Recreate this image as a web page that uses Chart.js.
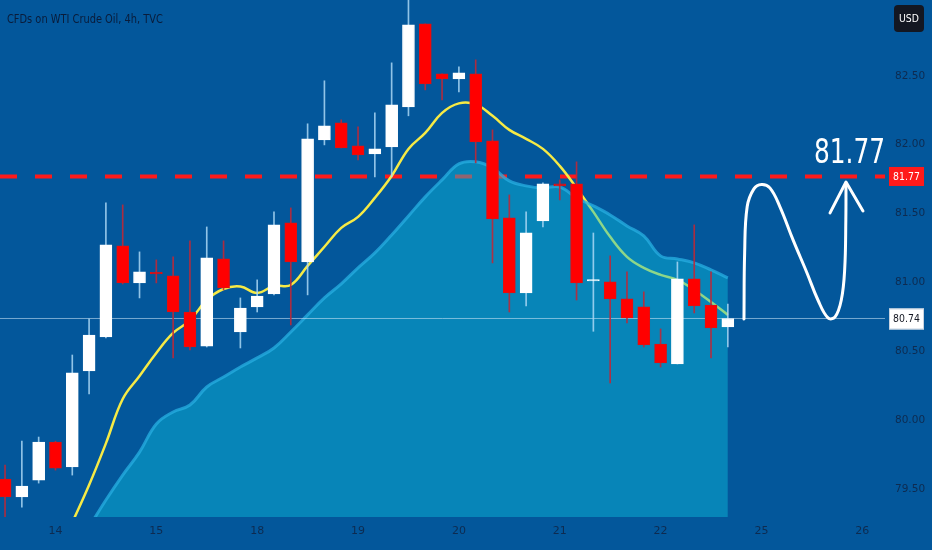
<!DOCTYPE html>
<html>
<head>
<meta charset="utf-8">
<script src="https://cdn.jsdelivr.net/npm/chart.js@4.4.1/dist/chart.umd.min.js"></script>
<style>
  html, body { margin: 0; padding: 0; background: #03579b; }
  #wrap { width: 932px; height: 550px; position: relative; }
</style>
</head>
<body>
<div id="wrap"><canvas id="oilChart"></canvas></div>
<script>
// 4h candles, WTI crude
const opens  = [79.575, 79.445, 79.568, 79.844, 79.663, 80.359, 80.606, 81.266, 80.998, 81.074, 81.049, 80.787, 80.54, 81.172, 80.642, 80.824, 80.918, 81.433, 81.15, 82.036, 82.159, 81.992, 81.934, 81.985, 82.275, 82.877, 82.515, 82.478, 82.515, 82.028, 81.47, 80.925, 81.448, 81.716, 81.716, 81.012, 81.005, 80.882, 80.824, 80.555, 80.41, 81.027, 80.838, 80.679];
const highs  = [79.677, 79.851, 79.88, 79.85, 80.475, 80.737, 81.578, 81.564, 81.223, 81.165, 81.187, 81.303, 81.404, 81.303, 80.889, 81.02, 81.513, 81.542, 82.152, 82.464, 82.181, 82.13, 82.231, 82.594, 83.2, 82.877, 82.515, 82.565, 82.616, 82.108, 81.636, 81.513, 81.724, 81.745, 81.876, 81.36, 81.194, 81.078, 80.933, 80.664, 81.15, 81.419, 81.078, 80.845];
const lows   = [79.25, 79.372, 79.546, 79.64, 79.604, 80.192, 80.599, 80.99, 80.889, 80.998, 80.454, 80.512, 80.533, 80.947, 80.526, 80.787, 80.911, 80.693, 80.911, 81.999, 81.977, 81.89, 81.767, 81.767, 82.21, 82.398, 82.326, 82.384, 81.869, 81.143, 80.787, 80.831, 81.404, 81.6, 80.874, 80.647, 80.272, 80.708, 80.533, 80.388, 80.41, 80.78, 80.454, 80.533];
const closes = [79.445, 79.525, 79.844, 79.655, 80.345, 80.62, 81.274, 80.998, 81.078, 81.064, 80.787, 80.533, 81.179, 80.962, 80.816, 80.903, 81.419, 81.15, 82.043, 82.137, 81.977, 81.927, 81.97, 82.29, 82.87, 82.442, 82.478, 82.522, 82.021, 81.462, 80.925, 81.361, 81.716, 81.702, 80.998, 81.022, 80.882, 80.744, 80.548, 80.417, 81.027, 80.831, 80.671, 80.74];

// yellow moving average, starts at bar 4
const maStart = 4;
const maValues = [79.26, 79.532, 79.834, 80.156, 80.323, 80.49, 80.635, 80.726, 80.874, 80.954, 80.972, 80.925, 80.976, 80.983, 81.121, 81.26, 81.397, 81.477, 81.615, 81.774, 81.97, 82.086, 82.231, 82.30, 82.293, 82.21, 82.108, 82.043, 81.97, 81.847, 81.687, 81.513, 81.332, 81.187, 81.107, 81.056, 81.02, 80.947, 80.86, 80.766];

// slow average shown as the cyan area, starts at bar 5
const areaStart = 5;
const areaValues = [79.227, 79.423, 79.604, 79.771, 79.975, 80.062, 80.112, 80.243, 80.315, 80.388, 80.454, 80.526, 80.642, 80.766, 80.889, 80.991, 81.107, 81.216, 81.346, 81.484, 81.622, 81.745, 81.861, 81.876, 81.832, 81.738, 81.702, 81.687, 81.694, 81.615, 81.557, 81.491, 81.411, 81.339, 81.194, 81.172, 81.143, 81.092, 81.034];

const targetPrice = 81.77;
const lastPrice = 80.74;

const xTickIndex  = [3, 9, 15, 21, 27, 33, 39, 45, 51];
const xTickLabels = ['14', '15', '18', '19', '20', '21', '22', '25', '26'];
const yTicks = [79.5, 80, 80.5, 81, 81.5, 82, 82.5];

// hand drawn projection (bar index, price)
const pathX = [43.96, 44.0, 44.15, 44.55, 45.0, 45.5, 46.1, 46.88, 47.71, 48.36, 48.96, 49.38, 49.75, 49.95, 50.02, 50.03];
const pathY = [80.736, 81.216, 81.55, 81.68, 81.712, 81.687, 81.55, 81.31, 81.07, 80.874, 80.744, 80.751, 80.874, 81.092, 81.455, 81.716];
const arrowX = [49.08, 50.03, 51.04];
const arrowY = [81.506, 81.73, 81.52];

const X_MIN = -0.3, X_MAX = 52.35;
const uiFont = "'DejaVu Sans', sans-serif";

const up = closes.map((c, i) => c >= opens[i]);
const bodyColors = up.map(u => u ? '#ffffff' : '#ff0000');
const bodyBorders = up.map(u => u ? '#ffffff' : '#e01010');
const wickColors = up.map(u => u ? 'rgba(170,215,245,0.85)' : 'rgba(190,40,55,0.9)');

// squeeze text horizontally (the original uses a condensed face)
function narrowText(ctx, text, x, y, sx) {
    ctx.save();
    ctx.translate(x, y);
    ctx.scale(sx, 1);
    ctx.fillText(text, 0, 0);
    ctx.restore();
}

const overlay = {
    id: 'overlay',
    afterDraw(chart) {
        const { ctx, chartArea } = chart;
        const y = chart.scales.y;
        ctx.save();

        // title
        ctx.fillStyle = '#0a1c3a';
        ctx.font = '12px ' + uiFont;
        ctx.textBaseline = 'middle';
        ctx.textAlign = 'left';
        narrowText(ctx, 'CFDs on WTI Crude Oil, 4h, TVC', 7, 20, 0.82);

        // currency box
        ctx.fillStyle = '#131722';
        ctx.beginPath();
        ctx.roundRect(894, 5, 30, 27, 4);
        ctx.fill();
        ctx.fillStyle = '#ffffff';
        ctx.textAlign = 'center';
        ctx.font = '11px ' + uiFont;
        narrowText(ctx, 'USD', 909, 19, 0.85);

        // target price label
        const yt = y.getPixelForValue(targetPrice);
        ctx.fillStyle = '#ff1a1a';
        ctx.fillRect(889, yt - 9.5, 35, 19);
        ctx.fillStyle = '#ffffff';
        narrowText(ctx, targetPrice.toFixed(2), 906.5, yt + 0.5, 0.85);

        // last price label
        const yl = y.getPixelForValue(lastPrice);
        ctx.fillStyle = '#ffffff';
        ctx.fillRect(889, yl - 10, 35, 21);
        ctx.strokeStyle = '#c8d3e0';
        ctx.lineWidth = 1;
        ctx.strokeRect(889.5, yl - 9.5, 34, 20);
        ctx.fillStyle = '#131722';
        narrowText(ctx, lastPrice.toFixed(2), 906.5, yl + 0.5, 0.85);

        // big target text
        ctx.fillStyle = '#ffffff';
        ctx.textAlign = 'right';
        ctx.textBaseline = 'alphabetic';
        ctx.font = '34px ' + uiFont;
        narrowText(ctx, targetPrice.toFixed(2), chartArea.right, yt - 13, 0.73);

        ctx.restore();
    }
};

const ctx = document.getElementById('oilChart').getContext('2d');
const oilChart = new Chart(ctx, {
    type: 'line',
    data: {
        datasets: [
            {
                type: 'line',
                data: [{ x: X_MIN, y: targetPrice }, { x: X_MAX, y: targetPrice }],
                borderColor: '#ff1a1a',
                borderWidth: 4,
                borderDash: [17, 18],
                pointRadius: 0,
                order: 7
            },
            {
                type: 'line',
                data: maValues.map((v, k) => ({ x: maStart + k, y: v })),
                borderColor: '#f6ea45',
                borderWidth: 2.5,
                pointRadius: 0,
                tension: 0.4,
                order: 6
            },
            {
                type: 'line',
                data: areaValues.map((v, k) => ({ x: areaStart + k, y: v })),
                borderColor: 'rgba(40,175,225,0.75)',
                borderWidth: 3,
                backgroundColor: 'rgba(14,191,219,0.45)',
                fill: 'start',
                pointRadius: 0,
                tension: 0.4,
                order: 5
            },
            {
                type: 'line',
                data: [{ x: X_MIN, y: lastPrice }, { x: X_MAX, y: lastPrice }],
                borderColor: 'rgba(200,225,245,0.6)',
                borderWidth: 1,
                pointRadius: 0,
                order: 4
            },
            {
                type: 'bar',
                data: lows.map((l, i) => ({ x: i, y: [l, highs[i]] })),
                backgroundColor: wickColors,
                barThickness: 1,
                grouped: false,
                order: 3
            },
            {
                type: 'bar',
                data: opens.map((o, i) => ({ x: i, y: [o, closes[i]] })),
                backgroundColor: bodyColors,
                borderColor: bodyBorders,
                borderWidth: 1,
                borderSkipped: false,
                barThickness: 12,
                grouped: false,
                order: 2
            },
            {
                type: 'line',
                data: pathX.map((x, k) => ({ x: x, y: pathY[k] })),
                borderColor: '#ffffff',
                borderWidth: 3,
                borderCapStyle: 'round',
                pointRadius: 0,
                tension: 0.4,
                order: 1
            },
            {
                type: 'line',
                data: arrowX.map((x, k) => ({ x: x, y: arrowY[k] })),
                borderColor: '#ffffff',
                borderWidth: 3,
                borderCapStyle: 'round',
                borderJoinStyle: 'round',
                pointRadius: 0,
                tension: 0,
                order: 0
            }
        ]
    },
    options: {
        responsive: true,
        maintainAspectRatio: false,
        animation: false,
        layout: { padding: 0 },
        plugins: {
            legend: { display: false },
            tooltip: { enabled: false }
        },
        scales: {
            x: {
                type: 'linear',
                min: X_MIN,
                max: X_MAX,
                offset: false,
                grid: { display: false, drawTicks: false },
                border: { display: false },
                afterFit(scale) {
                    scale.height = 33;
                    scale.paddingLeft = 0; scale.paddingRight = 0;
                    scale.paddingTop = 0; scale.paddingBottom = 0;
                },
                afterBuildTicks(scale) { scale.ticks = xTickIndex.map(v => ({ value: v })); },
                ticks: {
                    autoSkip: false,
                    maxRotation: 0,
                    padding: 8,
                    color: '#0e2b50',
                    font: { family: uiFont, size: 11 },
                    callback: (v) => xTickLabels[xTickIndex.indexOf(v)]
                }
            },
            y: {
                position: 'right',
                min: 79.3,
                max: 83.05,
                grid: { display: false, drawTicks: false },
                border: { display: false },
                afterFit(scale) {
                    scale.width = 47;
                    scale.paddingLeft = 0; scale.paddingRight = 0;
                    scale.paddingTop = 0; scale.paddingBottom = 0;
                },
                afterBuildTicks(scale) { scale.ticks = yTicks.map(v => ({ value: v })); },
                ticks: {
                    padding: 10,
                    color: '#0e2b50',
                    font: { family: uiFont, size: 10.5 },
                    callback: (v) => v.toFixed(2)
                }
            }
        }
    },
    plugins: [overlay]
});
</script>
</body>
</html>
